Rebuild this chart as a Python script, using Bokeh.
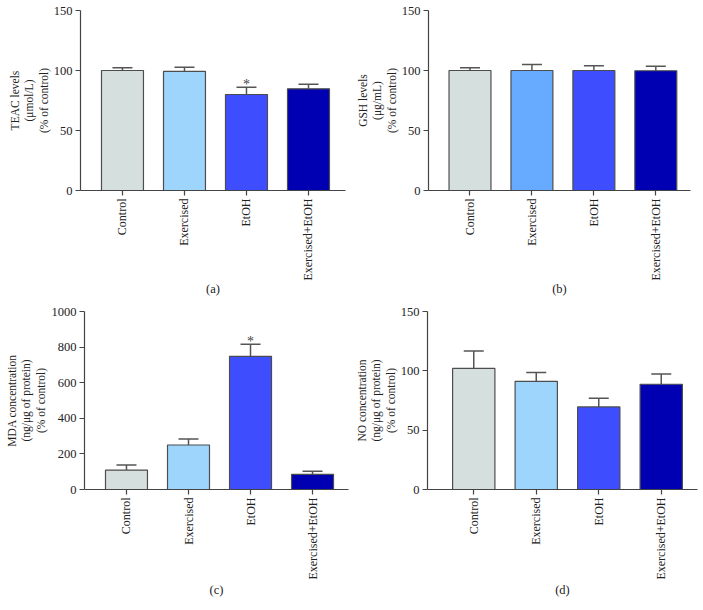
from bokeh.plotting import figure
from bokeh.models import Range1d, FixedTicker, Whisker, ColumnDataSource, TeeHead
from bokeh.layouts import row, column
from bokeh.embed import file_html
from bokeh.resources import INLINE
from bokeh.core.properties import value

groups = ["Control", "Exercised", "EtOH", "Exercised+EtOH"]

teac_mean = [100.0, 99.2, 80.0, 84.7]
teac_err = [2.2, 3.6, 6.1, 3.9]
teac_sig = [False, False, True, False]

gsh_mean = [100.0, 100.0, 100.0, 99.8]
gsh_err = [2.2, 5.0, 3.9, 3.8]
gsh_sig = [False, False, False, False]

mda_mean = [109.0, 250.0, 748.0, 85.0]
mda_err = [29.0, 34.0, 68.0, 18.0]
mda_sig = [False, False, True, False]

no_mean = [102.0, 91.2, 69.6, 88.7]
no_err = [14.7, 7.5, 7.4, 8.6]
no_sig = [False, False, False, False]

ticks_150 = [0, 50, 100, 150]
ticks_1000 = [0, 200, 400, 600, 800, 1000]

colors_main = ["#d5dfde", "#9dd5fc", "#3e4eff", "#0000b2"]
colors_gsh = ["#d5dfde", "#66abff", "#3e4eff", "#0000b2"]

FONT = "Liberation Serif"


def panel(means, errs, sig, colors, yticks, ylabel, letter,
          width, height, bl, br, bt, bb, xs, xe, ystand, xstand):
    idx = list(range(len(groups)))
    p = figure(width=width, height=height, output_backend="svg",
               toolbar_location=None, tools="",
               x_range=Range1d(xs, xe), y_range=Range1d(yticks[0], yticks[-1]),
               min_border_left=bl, min_border_right=br,
               min_border_top=bt, min_border_bottom=bb)
    p.outline_line_color = None
    p.xgrid.visible = False
    p.ygrid.visible = False

    src = ColumnDataSource(dict(
        x=idx, top=means, lower=means,
        upper=[m + e for m, e in zip(means, errs)], color=colors))
    p.vbar(x="x", top="top", width=0.677, bottom=0, source=src,
           fill_color="color", line_color="#4d4d4d", line_width=1.2)
    w = Whisker(base="x", lower="lower", upper="upper", source=src,
                dimension="height", line_color="#555555", line_width=1.5,
                upper_head=TeeHead(size=20, line_color="#555555", line_width=1.5),
                lower_head=None)
    p.add_layout(w)

    sx = [i for i, s in zip(idx, sig) if s]
    sy = [m + e for m, e, s in zip(means, errs, sig) if s]
    if sx:
        p.text(x=sx, y=sy, text=["*"] * len(sx), text_font=value(FONT),
               text_font_size="14px", text_align="center",
               text_baseline="alphabetic", y_offset=-3, text_color="#444444")

    for ax in (p.xaxis[0], p.yaxis[0]):
        ax.axis_line_color = "#444444"
        ax.axis_line_width = 1.2
        ax.major_tick_line_color = "#444444"
        ax.major_tick_line_width = 1.2
        ax.major_tick_out = 5
        ax.major_tick_in = 0
        ax.minor_tick_line_color = None
        ax.major_label_text_font = FONT
        ax.major_label_text_color = "#222222"
        ax.axis_label_text_font = FONT
        ax.axis_label_text_font_style = "normal"
        ax.axis_label_text_color = "#222222"

    p.yaxis.ticker = FixedTicker(ticks=yticks)
    p.yaxis.major_label_text_font_size = "12.5px"
    p.yaxis.major_label_standoff = 3
    p.yaxis.axis_label = ylabel
    p.yaxis.axis_label_text_font_size = "11.5px"
    p.yaxis.axis_label_text_line_height = 1.2
    p.yaxis.axis_label_standoff = ystand

    p.xaxis.ticker = FixedTicker(ticks=idx)
    p.xaxis.major_label_overrides = {i: g for i, g in zip(idx, groups)}
    p.xaxis.major_label_orientation = 1.5707963
    p.xaxis.major_label_text_font_size = "12px"
    p.xaxis.major_label_standoff = 3
    p.xaxis.axis_label = letter
    p.xaxis.axis_label_text_font_size = "12.5px"
    p.xaxis.axis_label_standoff = xstand
    return p


pa = panel(teac_mean, teac_err, teac_sig, colors_main, ticks_150,
           "TEAC levels\n(\u03bcmol/L)\n(% of control)", "(a)",
           351, 305, 80, 6, 10, 115, -0.677, 3.597, 1, -2)
pb = panel(gsh_mean, gsh_err, gsh_sig, colors_gsh, ticks_150,
           "GSH levels\n(\u03bcg/mL)\n(% of control)", "(b)",
           352, 305, 77, 13, 10, 115, -0.67, 3.56, 1, -2)
pc = panel(mda_mean, mda_err, mda_sig, colors_main, ticks_1000,
           "MDA concentration\n(ng/\u03bcg of protein)\n(% of control)", "(c)",
           351, 305, 84, 3, 6, 121, -0.677, 3.58, 2, 0)
pd_ = panel(no_mean, no_err, no_sig, colors_main, ticks_150,
            "NO concentration\n(ng/\u03bcg of protein)\n(% of control)", "(d)",
            352, 305, 76, 6, 6, 121, -0.74, 3.58, 1, 0)

layout = column(row(pa, pb), row(pc, pd_))
open("out.html", "w").write(file_html(layout, INLINE))
